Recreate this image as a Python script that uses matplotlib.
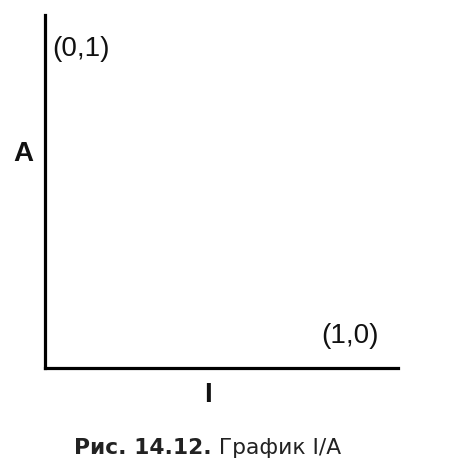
import matplotlib
matplotlib.use("Agg")
import matplotlib.pyplot as plt

# Data: the two labelled corner points of the I/A graph
point_labels = ["(0,1)", "(1,0)"]
point_x = [0, 1]
point_y = [1, 0]
x_label = "I"
y_label = "A"
caption_bold = "Рис. 14.12."
caption_rest = " График I/A"

W, H = 458, 471
fig = plt.figure(figsize=(W / 100, H / 100), dpi=100)
fig.patch.set_facecolor("white")

left, right, top, bottom = 45, 398, 15, 368
ax = fig.add_axes([left / W, (H - bottom) / H, (right - left) / W, (bottom - top) / H])
ax.set_xlim(0, 1)
ax.set_ylim(0, 1)
for s in ["top", "right"]:
    ax.spines[s].set_visible(False)
for s in ["left", "bottom"]:
    ax.spines[s].set_linewidth(2.3)
    ax.spines[s].set_color("black")
ax.set_xticks([])
ax.set_yticks([])

lab_font = "Liberation Sans"
# point labels
offsets = [((7, -34), "left"), ((-19, 32), "right")]
for lbl, px, py, (off, ha) in zip(point_labels, point_x, point_y, offsets):
    ax.annotate(lbl, (px, py), xytext=off, textcoords="offset pixels",
                ha=ha, va="center", fontsize=20, family=lab_font, color="#111111")

# axis labels
fig.text(23 / W, 1 - 154 / H, y_label, fontsize=20, fontweight="bold", family=lab_font,
         ha="center", va="center", color="#111111")
fig.text(208 / W, 1 - 395 / H, x_label, fontsize=20, fontweight="bold", family=lab_font,
         ha="center", va="center", color="#111111")

# caption
cap_y = 1 - 454 / H
cap_font = "DejaVu Sans"
t1 = fig.text(74 / W, cap_y, caption_bold, fontsize=15.7, fontweight="bold",
              family=cap_font, ha="left", va="baseline", color="#222222")
fig.canvas.draw()
bb = t1.get_window_extent()
fig.text(bb.x1 / W, cap_y, caption_rest, fontsize=15.7, family=cap_font,
         ha="left", va="baseline", color="#222222")

fig.savefig("out.png", dpi=100, facecolor="white")
